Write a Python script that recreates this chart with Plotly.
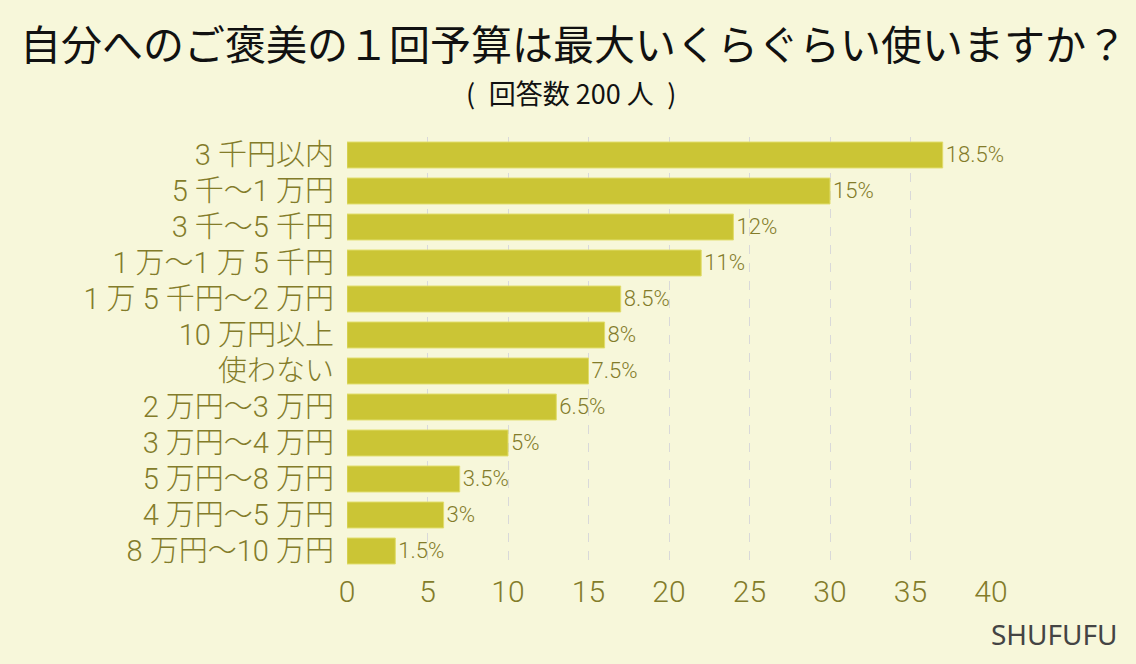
import plotly.graph_objects as go

categories = ["3 千円以内", "5 千〜1 万円", "3 千〜5 千円", "1 万〜1 万 5 千円", "1 万 5 千円〜2 万円",
              "10 万円以上", "使わない", "2 万円〜3 万円", "3 万円〜4 万円", "5 万円〜8 万円",
              "4 万円〜5 万円", "8 万円〜10 万円"]
counts = [37, 30, 24, 22, 17, 16, 15, 13, 10, 7, 6, 3]
percent_labels = ["18.5%", "15%", "12%", "11%", "8.5%", "8%", "7.5%", "6.5%", "5%", "3.5%", "3%", "1.5%"]
x_ticks = [0, 5, 10, 15, 20, 25, 30, 35, 40]

olive = "#837c2a"
fam = "Roboto, Noto Sans CJK JP"
fig = go.Figure(go.Bar(
    y=categories, x=counts, orientation="h",
    marker=dict(color="#cbc535", line=dict(color="#e0dc6a", width=1)),
    text=percent_labels, textposition="outside", cliponaxis=False,
    textfont=dict(size=23, color=olive, family=fam, weight=300),
))

fig.update_layout(
    width=1136, height=664,
    paper_bgcolor="#f7f7da", plot_bgcolor="#f7f7da",
    margin=dict(l=347, r=145, t=137, b=95),
    bargap=0.28,
    showlegend=False,
    font=dict(family=fam, color=olive),
    xaxis=dict(range=[0, 40], tickvals=x_ticks, showgrid=True, gridcolor="#d9d9d9",
               griddash="dash", gridwidth=1, zeroline=False, showline=False,
               tickfont=dict(size=30, color=olive, weight=300), ticks="", ticklabelstandoff=2),
    yaxis=dict(autorange="reversed", showgrid=False, showline=False, ticks="",
               tickfont=dict(size=29, color=olive, family=fam, weight=300),
               ticklabelstandoff=12),
    annotations=[
        dict(text="自分へのご褒美の１回予算は最大いくらぐらい使いますか？", xref="paper", yref="paper",
             x=0.5, xanchor="center", xshift=-(347 - 145) / 2 + 5, y=1, yshift=95, yanchor="middle",
             showarrow=False, font=dict(size=41, color="#111111", family="Noto Sans CJK JP")),
        dict(text="(\u2002回答数 200 人\u2002)", xref="paper", yref="paper",
             x=0.5, xanchor="center", xshift=-(347 - 145) / 2 + 3, y=1, yshift=45, yanchor="middle",
             showarrow=False, font=dict(size=27, color="#111111", family="Noto Sans CJK JP")),
        dict(text="SHUFUFU", xref="paper", yref="paper", x=1, xshift=129, xanchor="right",
             y=0, yshift=-65, yanchor="middle", showarrow=False,
             font=dict(size=28, color="#444444", family="Noto Sans, Open Sans")),
    ],
)

fig.write_html("out.html")
